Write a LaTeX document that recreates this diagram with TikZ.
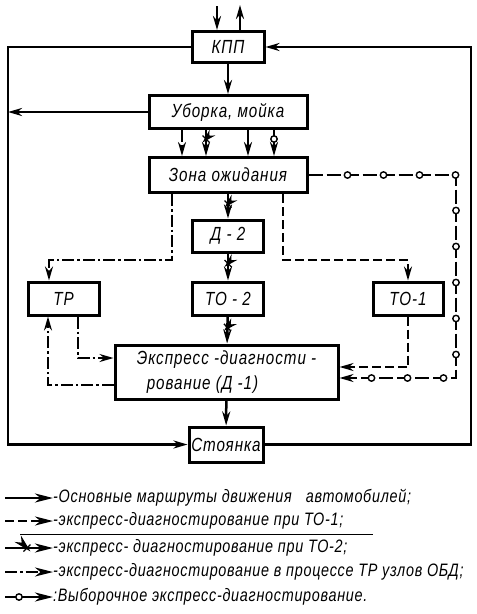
\documentclass[tikz,border=0pt]{standalone}
\usepackage{fontspec}
\newfontfamily\chert[FakeStretch=0.8,LetterSpace=5]{Liberation Sans}
\newfontfamily\chertleg[FakeStretch=0.8,LetterSpace=4]{Liberation Sans}
\usetikzlibrary{arrows.meta,decorations.markings}

\tikzset{
  >={Stealth[length=14pt,width=8pt,inset=4.5pt]},
  blok/.style={draw, line width=3pt, inner sep=1pt, font=\chert\itshape\fontsize{19}{25}\selectfont},
  leg/.style={inner sep=0pt, font=\chertleg\itshape\fontsize{18}{24}\selectfont},
  osn/.style={line width=2.5pt, ->},
  to1/.style={line width=2pt, dash pattern=on 9pt off 4pt, ->},
  tr/.style={line width=2pt, dash pattern=on 12pt off 3pt on 2.5pt off 3pt, ->},
  xmet/.style={postaction={decorate, decoration={markings, mark=at position #1 with {\draw[solid, line width=1.4pt] (-3.5pt,-3.5pt) -- (3.5pt,3.5pt) (-3.5pt,3.5pt) -- (3.5pt,-3.5pt);}}}},
  xmet/.default=10pt,
  omet/.style={postaction={decorate, decoration={markings, mark=at position #1 with {\draw[solid, line width=1.4pt, fill=white] (0,0) circle (3.2pt);}}}},
  omet/.default=10pt,
  kolco/.style={line width=2pt, dash pattern=on 14pt off 4pt, ->,
    postaction={decorate, decoration={markings, mark=between positions 39pt and 440pt step 36pt with {\draw[solid, line width=1.4pt, fill=white] (0,0) circle (3.2pt);}}}},
  legstrel/.style={>={Stealth[length=18pt,width=9pt,inset=5.5pt]}}
}

\begin{document}
\begin{tikzpicture}[x=1pt, y=-1pt]
    \useasboundingbox (0,0) rectangle (477,614);

    % blocks
    \node[blok, minimum width=72pt, minimum height=31pt] (kpp) at (228,47) {КПП};
    \node[blok, minimum width=158pt, minimum height=33pt] (ub) at (228,112) {Уборка, мойка};
    \node[blok, minimum width=158pt, minimum height=35pt] (zo) at (228,175) {Зона ожидания};
    \node[blok, minimum width=71pt, minimum height=32pt] (d2) at (228,236) {Д - 2};
    \node[blok, minimum width=71pt, minimum height=33pt] (tr) at (63.5,298.5) {ТР};
    \node[blok, minimum width=71pt, minimum height=33pt] (to2) at (228,298.5) {ТО - 2};
    \node[blok, minimum width=70pt, minimum height=33pt] (to1) at (408,298.5) {ТО-1};
    \node[blok, minimum width=223pt, minimum height=54pt, align=left] (ek) at (226.5,372)
        {Экспресс -диагности -\\\hspace*{10pt}рование (Д -1)};
    \node[blok, minimum width=74pt, minimum height=35pt] (st) at (226,444.5) {Стоянка};

    % helper points
    \coordinate (fL) at (8,0);
    \coordinate (fR) at (471,0);
    \coordinate (vh1) at (217,6);
    \coordinate (vh2) at (240,5);
    \coordinate (k1) at (182,0);
    \coordinate (k2) at (206,0);
    \coordinate (k3) at (248,0);
    \coordinate (k4) at (274,0);
    \coordinate (a1) at (172,260);
    \coordinate (a2) at (49,260);
    \coordinate (b1) at (283,260);
    \coordinate (c1) at (78,358);
    \coordinate (c2) at (48,385);
    \coordinate (d1) at (408,367);
    \coordinate (kR) at (456,378);

    % main routes
    \draw[osn] (vh1) -- (kpp.north -| vh1);
    \draw[osn] (kpp.north -| vh2) -- (vh2);
    \draw[osn] (kpp) -- (ub);
    \draw[osn] (kpp.west) -- (fL |- kpp.west) -- (fL |- st.west) -- (st.west);
    \draw[osn] (st.east) -- (fR |- st.east) -- (fR |- kpp.east) -- (kpp.east);
    \draw[osn] (ub.west) -- (ub.west -| fL);
    \draw[osn] (ub.south -| k3) -- (zo.north -| k3);
    \draw[osn] (ek) -- (st);

    % from cleaning to waiting zone
    \draw[tr] (ub.south -| k1) -- (zo.north -| k1);
    \draw[osn, xmet=9pt] (ub.south -| k2) -- (zo.north -| k2);
    \draw[osn, omet=9pt] (ub.south -| k4) -- (zo.north -| k4);

    % TO-2 chain
    \draw[osn, xmet] (zo) -- (d2);
    \draw[osn, xmet] (d2) -- (to2);
    \draw[osn, xmet=11pt] (to2) -- (ek);

    % TR
    \draw[tr] (zo.south -| a1) -- (a1) -- (a2) -- (tr.north -| a2);
    \draw[tr] (tr.south -| c1) -- (c1) -- (c1 -| ek.west);
    \draw[tr] (ek.west |- c2) -- (c2) -- (c2 |- tr.south);

    % TO-1
    \draw[to1] (zo.south -| b1) -- (b1) -- (b1 -| to1.north) -- (to1.north);
    \draw[to1] (to1.south) -- (d1) -- (d1 -| ek.east);

    % selective
    \draw[kolco] (zo.east) -- (zo.east -| kR) -- (kR) -- (kR -| ek.east);

    % legend
    \node[leg, anchor=west] (t1) at (53,498) {-Основные маршруты движения\hspace{14pt}автомобилей;};
    \node[leg, anchor=west] (t2) at (53,521) {-экспресс-диагностирование при ТО-1;};
    \node[leg, anchor=west] (t3) at (53,548) {-экспресс- диагностирование при ТО-2;};
    \node[leg, anchor=west] (t4) at (53,572) {-экспресс-диагностирование в процессе ТР узлов ОБД;};
    \node[leg, anchor=west] (t5) at (53,597) {:Выборочное экспресс-диагностирование.};
    \coordinate (s1) at (5,498);
    \coordinate (s2) at (5,521);
    \coordinate (s3) at (5,548);
    \coordinate (s4) at (5,572);
    \coordinate (s5) at (5,597);
    \coordinate (u1) at (20,534);
    \coordinate (u2) at (373,534);

    \draw[osn, legstrel] (s1) -- (t1.west);
    \draw[to1, legstrel] (s2) -- (t2.west);
    \draw[osn, legstrel, xmet=22pt] (s3) -- (t3.west);
    \draw[tr, legstrel] (s4) -- (t4.west);
    \draw[osn, legstrel, omet=14pt] (s5) -- (t5.west);
    \draw[line width=0.8pt] (u1) -- (u2);
\end{tikzpicture}
\end{document}
